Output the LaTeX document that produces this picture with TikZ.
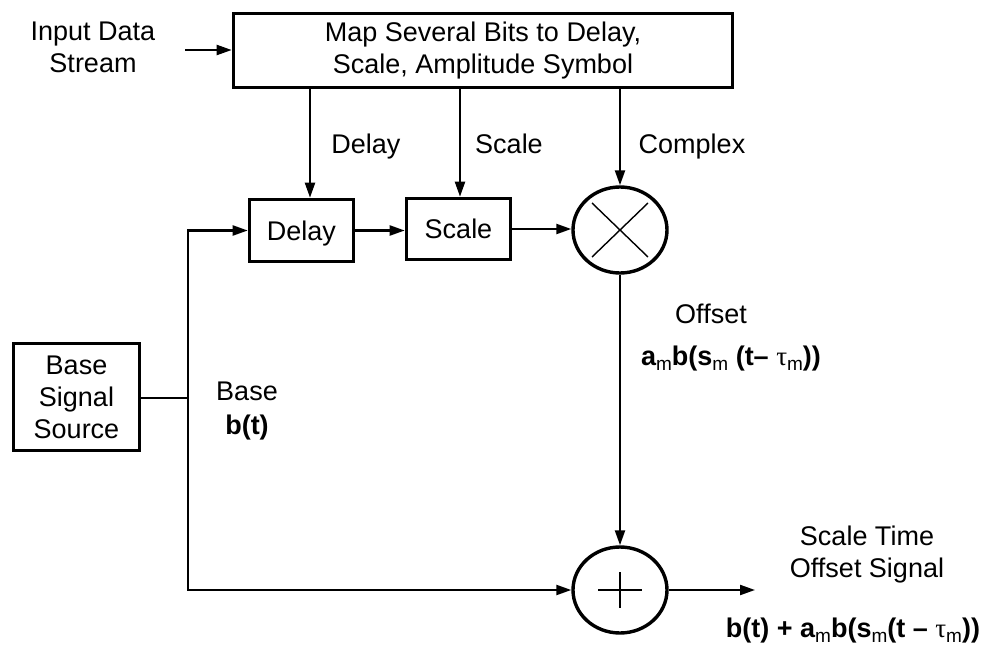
\documentclass[tikz,border=0pt]{standalone}
\usepackage{fontspec}
\setmainfont{Liberation Sans}
\newfontfamily\grk{Liberation Serif}
\usetikzlibrary{arrows.meta,shapes.geometric}
\newcommand\subm{\raisebox{-0.2em}{\fontsize{19}{19}\selectfont\mdseries m}}
\begin{document}
\begin{tikzpicture}[x=1pt,y=-1pt,
  every node/.style={font=\fontsize{27}{32}\selectfont, inner sep=0pt},
  blk/.style={draw, line width=3.6pt, rectangle, align=center},
  small/.style={text height=20pt, text depth=1pt},
  opcircle/.style={draw, line width=3.4pt, ellipse, minimum width=94pt, minimum height=86pt},
  conn/.style={line width=2.2pt},
  arr/.style={conn, -{Triangle[length=15pt,width=10pt]}},
  lbl/.style={anchor=base, align=center}
]
\useasboundingbox (0,0) rectangle (989,645);

% blocks
\node[blk, minimum width=499pt, minimum height=74pt] (map) at (483,50.5)
  {Map Several Bits to Delay,\\Scale, Amplitude Symbol};
\node[blk, small, minimum width=104pt, minimum height=62pt] (delay) at (301.5,230.5) {Delay};
\node[blk, small, minimum width=104pt, minimum height=61pt] (scale) at (458.5,229) {Scale};
\node[blk, minimum width=126pt, minimum height=107pt] (src) at (76.5,397) {Base\\Signal\\Source};
\node[opcircle] (mult) at (620,230) {};
\node[opcircle] (sum) at (620,590) {};

% symbols inside circles
\draw[line width=1.4pt] (mult.center) ++(-28,-27) -- ++(56,54);
\draw[line width=1.4pt] (mult.center) ++(-28,27) -- ++(56,-54);
\draw[line width=1.4pt] (sum.center) ++(-22,0) -- ++(44,0);
\draw[line width=1.4pt] (sum.center) ++(0,-18) -- ++(0,36);

% labels
\node[lbl] (inlbl) at (93,72) {Input Data\\Stream};
\node[lbl] (ldelay) at (366,153) {Delay};
\node[lbl] (lscale) at (509,153) {Scale};
\node[lbl] (lcomplex) at (692,153) {Complex};
\node[lbl] (lbase) at (247,434) {Base\\[2pt]\bfseries b(t)};
\node[lbl] (loffset) at (711,323) {Offset};
\node[lbl] (lform1) at (731,365) {\bfseries a\subm b(s\subm{} (t– {\grk\mdseries τ}\subm))};
\node[lbl] (lout) at (867,577) {Scale Time\\Offset Signal};
\node[lbl] (lform2) at (853,637) {\bfseries b(t) + a\subm b(s\subm(t – {\grk\mdseries τ}\subm))};

% coordinates
\coordinate (in) at (185,50);
\coordinate (j) at (188,398);
\coordinate (out) at (755,590);

% connectors
\draw[arr] (in) -- (in -| map.west);
\draw[arr] (map.south -| 310,0) -- (delay.north -| 310,0);
\draw[arr] (map.south -| 460,0) -- (scale.north -| 460,0);
\draw[arr] (map.south -| mult.north) -- (mult.north);
\draw[arr] (delay.east) -- (scale.west |- delay.east);
\draw[arr] (scale.east) -- (scale.east -| mult.west);
\draw[arr] (mult.south) -- (sum.north);
\draw[conn] (src.east |- j) -- (j);
\draw[arr] (j) |- (delay.west);
\draw[arr] (j) |- (sum.west);
\draw[arr] (sum.east) -- (out);
\end{tikzpicture}
\end{document}
